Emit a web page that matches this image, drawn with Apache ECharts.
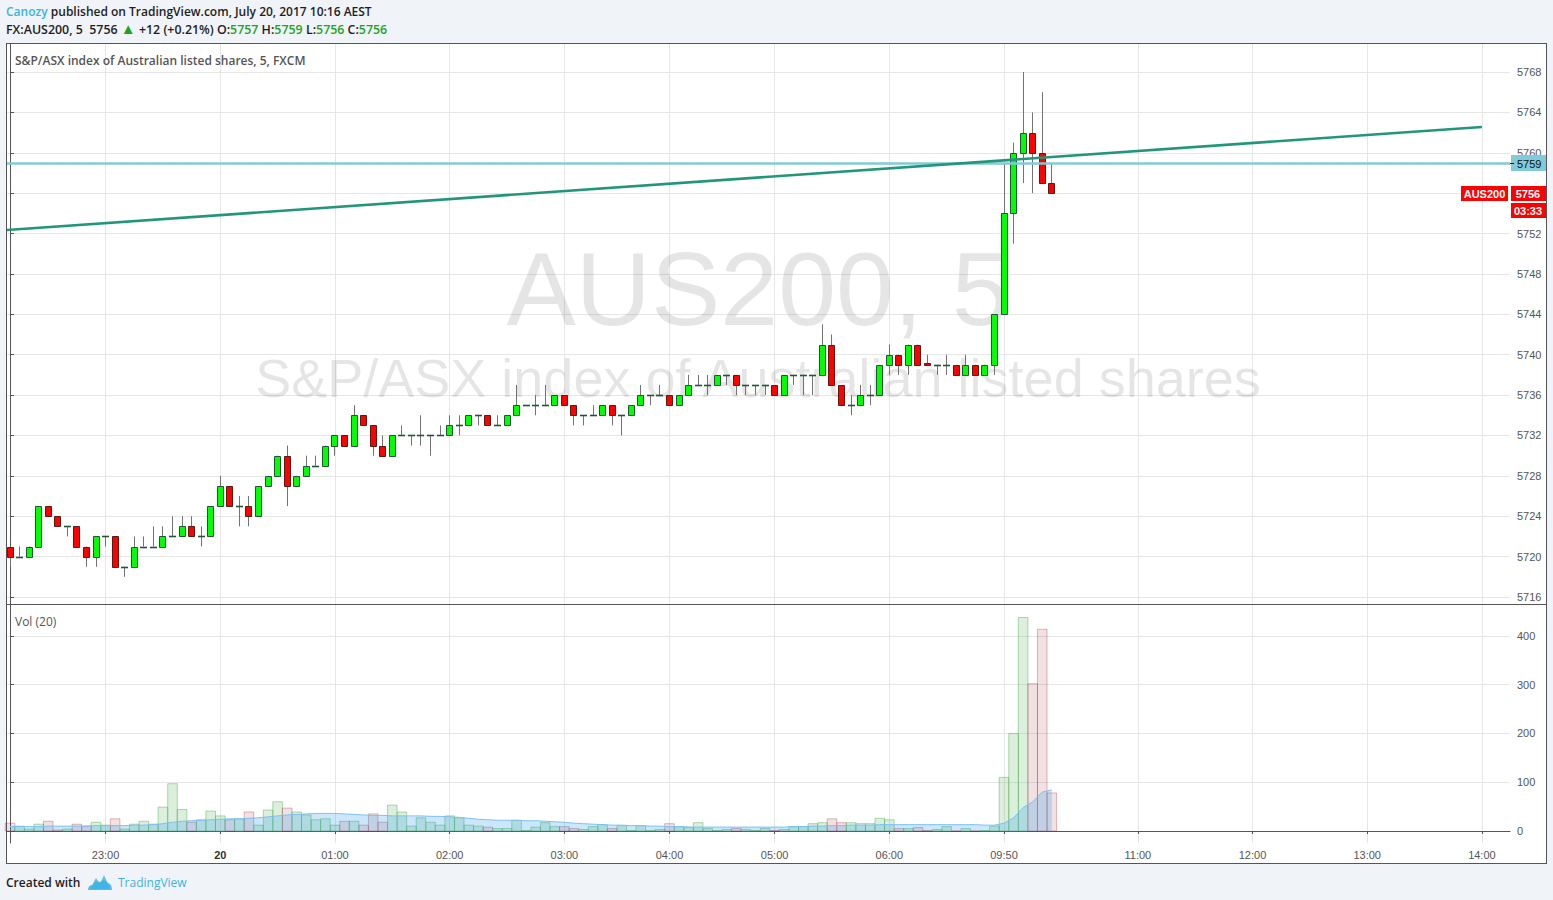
<!DOCTYPE html>
<html><head><meta charset="utf-8">
<script src="https://cdn.jsdelivr.net/npm/echarts@6.0.0/dist/echarts.min.js"></script>
<style>
html,body{margin:0;padding:0;background:#f0f3f7;width:1553px;height:900px;overflow:hidden;}
#frame{position:absolute;left:6px;top:43px;width:1541px;height:821px;box-sizing:border-box;border:1px solid #555;background:#fff;}
#sep{position:absolute;left:7px;top:604px;width:1539px;height:1px;background:#555;}
#c{position:absolute;left:0;top:0;width:1553px;height:900px;}
.t{position:absolute;white-space:nowrap;font-family:'Open Sans',sans-serif;font-weight:600;font-size:12px;color:#1e1e1e;}
.g{color:#1ea31e}
.b{color:#3bb3e4}
.tri{color:#1ea31e;font-size:15px;line-height:12px;}
</style></head><body>
<div id="frame"></div>
<div id="sep"></div>
<div class="t" style="left:6px;top:3px;"><span class="b">Canozy</span> published on TradingView.com, July 20, 2017 10:16 AEST</div>
<div class="t" style="left:6px;top:21px;font-size:12.4px;">FX:AUS200, 5&nbsp; 5756 <span class="tri">&#9650;</span> +12 (+0.21%) O:<span class="g">5757</span> H:<span class="g">5759</span> L:<span class="g">5756</span> C:<span class="g">5756</span></div>
<div class="t" style="left:6px;top:874px;">Created with</div>
<svg style="position:absolute;left:87px;top:872px" width="26" height="20" viewBox="0 0 26 20"><path d="M3 17 L9 6 L13 12 L17 3 L23 17 Z" fill="#5fc0ea"/><path d="M1 18 Q1 13 6 13 Q8 8 13 10 Q17 6 21 11 Q25 12 25 18 Z" fill="#3bb3e4" opacity="0.85"/></svg>
<div class="t" style="left:118px;top:874px;font-weight:400;color:#3bb3e4">TradingView</div>
<div id="c"></div>
<script>
// ---- data ----
const openP  = [5721,5720,5720,5721,5725,5724,5723,5723,5721,5720,5722,5722,5719,5719,5721,5721,5721,5722,5722,5723,
                5722,5722,5725,5727,5725,5725,5724,5727,5728,5730,5727,5728,5729,5729,5731,5732,5731,5734,5733,5731,
                5730,5732,5732,5732,5732,5732,5732,5733,5733,5734,5734,5733,5733,5734,5735,5735,5735,5735,5736,5735,
                5734,5734,5734,5735,5734,5734,5735,5736,5736,5736,5735,5736,5737,5737,5737,5738,5738,5737,5737,5737,
                5737,5736,5738,5738,5738,5738,5741,5737,5735,5735,5736,5736,5739,5740,5739,5741,5739.2,5739,5739,5739,
                5738,5739,5738,5739,5744,5754,5760,5762,5760,5757];
const highP  = [5721,5721,5721,5725,5725,5724,5723,5723,5721,5722,5722,5722,5719,5722,5722,5723,5723,5724,5724,5724,
                5723,5725,5728,5727,5726,5726,5727,5728,5730,5731,5728,5730,5730,5731,5732,5732,5735,5734,5733,5732,
                5732,5733,5732,5734,5732,5733,5734,5734,5734,5734,5734,5734,5734,5737,5735,5736,5737,5736,5736,5735,
                5734,5735,5735,5735,5734,5735,5737,5736,5737,5736,5736,5738,5738,5738,5738,5738,5738,5737,5737,5737,
                5737,5738,5738,5738,5738,5743,5742,5737,5736,5737,5737,5739,5741,5740,5741,5741,5740,5739,5740,5739,
                5740,5739,5739,5744,5759,5761,5768,5764,5766,5759];
const lowP   = [5719,5720,5720,5721,5724,5723,5722,5721,5719,5719,5721,5719,5718,5719,5721,5721,5721,5722,5722,5722,
                5721,5722,5725,5725,5723,5723,5724,5727,5728,5725,5727,5728,5729,5729,5730,5731,5731,5733,5730,5730,
                5730,5732,5731,5731,5730,5732,5732,5732,5733,5733,5733,5733,5733,5734,5735,5734,5735,5735,5735,5733,
                5733,5734,5734,5733,5732,5734,5735,5735,5736,5735,5735,5736,5737,5736,5737,5737,5736,5736,5736,5736,
                5736,5736,5737,5736,5736,5738,5737,5735,5734,5735,5735,5736,5738,5738,5738,5739,5739,5738,5738,5738,
                5738,5738,5738,5738,5744,5751,5757,5756,5757,5756];
const closeP = [5720,5720,5721,5725,5724,5723,5723,5721,5720,5722,5722,5719,5719,5721,5721,5721,5722,5722,5723,5722,
                5722,5725,5727,5725,5725,5724,5727,5728,5730,5727,5728,5729,5729,5731,5732,5731,5734,5733,5731,5730,
                5732,5732,5732,5732,5732,5732,5733,5733,5734,5734,5733,5733,5734,5735,5735,5735,5735,5736,5735,5734,
                5734,5734,5735,5734,5734,5735,5736,5736,5736,5735,5736,5737,5737,5737,5738,5738,5737,5737,5737,5737,
                5736,5738,5738,5738,5738,5741,5737,5735,5735,5736,5736,5739,5740,5739,5741,5739,5739,5739,5739,5738,
                5739,5738,5739,5744,5754,5760,5762,5760,5757,5756];
const volume = [16,10,4,14,20,2,4,14,10,18,12,25,4,14,20,14,49,97,44,18,
                23,41,31,23,25,39,12,43,60,47,39,33,23,25,12,20,20,12,35,18,
                53,39,10,27,18,12,31,27,12,10,8,5,5,22,1,8,17,9,9,5,
                3,9,13,5,11,1,11,1,3,15,9,8,17,5,1,3,5,3,1,5,
                1,3,9,9,15,17,25,17,17,15,15,26,23,5,5,7,1,3,9,0,
                5,0,1,10,110,200,438,302,414,78];
const volMA  = [9,9,9,9,10,10,10,10,10,11,11,11,11,12,12,13,15,18,20,21,
                22,23,24,25,25,26,27,29,31,33,34,35,36,36,36,35,34,33,32,32,
                31,31,31,31,30,30,29,28,26,24,23,22,22,22,21,21,20,19,18,16,
                15,14,13,12,12,11,11,10,10,9,9,8,8,8,8,8,8,8,8,8,
                8,8,9,9,10,10,11,11,12,12,12,13,13,13,13,13,13,13,13,13,
                13,13,12,12,16,27,48,60,80,84];
const priceTicks = [5716,5720,5724,5728,5732,5736,5740,5744,5748,5752,5756,5760,5764,5768];
const volTicks = [0,100,200,300,400];
const timeTickIndex = [10,22,34,46,58,69,80,92,104,118,130,142,154];
const timeTickLabel = ['23:00','20','01:00','02:00','03:00','04:00','05:00','06:00','09:50','11:00','12:00','13:00','14:00'];
const trendLine = [[-0.31,5752.35],[154,5762.55]];
const hLevel = 5759;
const lastPrice = 5756;
const symbolName = 'AUS200';
const countdown = '03:33';

// ---- chart ----
const chart = echarts.init(document.getElementById('c'), null, {renderer:'svg', width:1553, height:900});
const candles = openP.map((o,i)=>[i,o,highP[i],lowP[i],closeP[i]]);
const vols = volume.map((v,i)=>[i,v,closeP[i]>=openP[i]?1:0]);
const ma = volMA.map((v,i)=>[i,v]);
const X_MIN=-0.314, X_MAX=156.94;
const GRID='#e6e6e6', AX='#555';

function renderCandle(params, api){
  const i=api.value(0), o=api.value(1), h=api.value(2), l=api.value(3), c=api.value(4);
  const up = c>=o;
  const pt=api.coord([i,Math.max(o,c)]), pb=api.coord([i,Math.min(o,c)]);
  const ph=api.coord([i,h]), pl=api.coord([i,l]);
  const cx=Math.floor(pt[0])+0.5;
  const kids=[{type:'line',shape:{x1:cx,y1:ph[1],x2:cx,y2:pl[1]},style:{stroke:'#737375',lineWidth:1}}];
  const yt=Math.round(pt[1])+0.5, yb=Math.round(pb[1])+0.5;
  if (yb-yt<1){
    kids.push({type:'line',shape:{x1:cx-3.5,y1:yt,x2:cx+3.5,y2:yt},style:{stroke:up?'#225437':'#5b1a13',lineWidth:1.6}});
  } else {
    kids.push({type:'rect',shape:{x:cx-3,y:yt,width:6,height:yb-yt},style:{fill:up?'#00ff00':'#ff0000',stroke:up?'#225437':'#5b1a13',lineWidth:1}});
  }
  return {type:'group',children:kids};
}
function renderVol(params, api){
  const i=api.value(0), v=api.value(1), up=api.value(2);
  const a=api.coord([i-0.5,v]), b=api.coord([i+0.5,0]);
  return {type:'rect',shape:{x:a[0],y:a[1],width:b[0]-a[0],height:b[1]-a[1]},
    style:{fill:up?'rgba(76,175,80,0.2)':'rgba(160,40,50,0.14)',stroke:up?'rgba(76,175,80,0.45)':'rgba(160,40,50,0.32)',lineWidth:1}};
}
const axisLbl={color:'#555',fontSize:11,fontFamily:'Liberation Sans, Arial'};
const hiddenPriceLabels=[lastPrice];
const opt={
  backgroundColor:'transparent',
  animation:false,
  grid:[{left:7,top:44,width:1503,height:560},{left:7,top:605,width:1503,height:238}],
  xAxis:[
    {type:'value',gridIndex:0,min:X_MIN,max:X_MAX,axisLine:{show:false},axisLabel:{show:false},
     axisTick:{show:false,customValues:timeTickIndex},splitLine:{show:true,lineStyle:{color:GRID}}},
    {type:'value',gridIndex:1,min:X_MIN,max:X_MAX,axisLine:{show:true,lineStyle:{color:AX}},
     axisTick:{show:true,length:3,lineStyle:{color:AX},customValues:timeTickIndex},
     axisLabel:Object.assign({},axisLbl,{margin:6,customValues:timeTickIndex,
        formatter:v=>{const k=timeTickIndex.indexOf(Math.round(v));const s=k>=0?timeTickLabel[k]:'';return s==='20'?'{b|20}':s;},
        rich:{b:{fontWeight:'bold',fontSize:11,color:'#333'}}}),
     splitLine:{show:true,lineStyle:{color:GRID}}}
  ],
  yAxis:[
    {type:'value',gridIndex:0,position:'right',min:5715.307,max:5770.773,
     axisLine:{show:true,lineStyle:{color:AX}},axisTick:{show:true,length:4,lineStyle:{color:AX},customValues:priceTicks},
     axisLabel:Object.assign({},axisLbl,{margin:7,customValues:priceTicks,
        formatter:v=>hiddenPriceLabels.indexOf(Math.round(v))>=0?'':String(Math.round(v))}),
     splitLine:{show:true,lineStyle:{color:GRID}}},
    {type:'value',gridIndex:1,position:'right',min:-24.62,max:463.59,
     axisLine:{show:true,lineStyle:{color:AX}},axisTick:{show:true,length:4,lineStyle:{color:AX},customValues:volTicks},
     axisLabel:Object.assign({},axisLbl,{margin:7,customValues:volTicks,formatter:v=>String(Math.round(v))}),
     splitLine:{show:true,lineStyle:{color:GRID}}}
  ],
  series:[
    {type:'custom',name:'vol',xAxisIndex:1,yAxisIndex:1,data:vols,encode:{x:0,y:1},renderItem:renderVol,z:2},
    {type:'line',name:'volMA',xAxisIndex:1,yAxisIndex:1,data:ma,symbol:'none',z:3,
     lineStyle:{color:'#7cc1f3',width:1},areaStyle:{color:'rgba(33,150,243,0.33)'}},
    {type:'custom',name:'candles',xAxisIndex:0,yAxisIndex:0,data:candles,encode:{x:0,y:[1,2,3,4]},renderItem:renderCandle,z:3},
    {type:'line',name:'trend',xAxisIndex:0,yAxisIndex:0,data:trendLine,symbol:'none',z:5,
     lineStyle:{color:'#22967a',width:2.6},
     markLine:{silent:true,symbol:'none',label:{show:false},lineStyle:{color:'#80cbd7',width:2.6,type:'solid'},data:[{yAxis:hLevel}]}}
  ]
};
chart.setOption(opt);
// tags on the price scale, positioned through the axis scale
const yH = Math.round(chart.convertToPixel({xAxisIndex:0,yAxisIndex:0},[0,hLevel])[1]);
const yL = Math.round(chart.convertToPixel({xAxisIndex:0,yAxisIndex:0},[0,lastPrice])[1]);
const tagFont='bold 11px "Liberation Sans", Arial';
chart.setOption({graphic:[
  {id:'wm1',type:'text',z:1,style:{text:'AUS200, 5',x:758,y:341,textAlign:'center',textVerticalAlign:'bottom',fill:'rgba(0,0,0,0.1)',font:'104px "Liberation Sans", Arial'}},
  {id:'wm2',type:'text',z:1,style:{text:'S&P/ASX index of Australian listed shares',x:758,y:405,textAlign:'center',textVerticalAlign:'bottom',fill:'rgba(0,0,0,0.1)',font:'54px "Liberation Sans", Arial'}},
  {id:'t1',type:'text',z:50,style:{text:'S&P/ASX index of Australian listed shares, 5, FXCM',x:15,y:60,textVerticalAlign:'middle',fill:'#555',font:'600 12px "Open Sans"'}},
  {id:'t2',type:'text',z:50,style:{text:'Vol (20)',x:15,y:621,textVerticalAlign:'middle',fill:'#555',font:'400 12px "Open Sans"'}},
  {id:'r1',type:'rect',z:60,shape:{x:1511,y:yH-8,width:35,height:16},style:{fill:'#80cbd7'}},
  {id:'k1',type:'line',z:61,shape:{x1:1510,y1:yH+0.5,x2:1514,y2:yH+0.5},style:{stroke:'#111',lineWidth:1}},
  {id:'x1',type:'text',z:61,style:{text:String(hLevel),x:1517,y:yH+0.5,textVerticalAlign:'middle',fill:'#111',font:'11px "Liberation Sans", Arial'}},
  {id:'r2',type:'rect',z:60,shape:{x:1511,y:yL-7,width:35,height:15},style:{fill:'#ff0000'}},
  {id:'x2',type:'text',z:61,style:{text:String(lastPrice),x:1528,y:yL+0.5,textAlign:'center',textVerticalAlign:'middle',fill:'#fff',font:tagFont}},
  {id:'r3',type:'rect',z:60,shape:{x:1461,y:yL-7,width:47,height:15},style:{fill:'#ff0000'}},
  {id:'x3',type:'text',z:61,style:{text:symbolName,x:1484.5,y:yL+0.5,textAlign:'center',textVerticalAlign:'middle',fill:'#fff',font:tagFont}},
  {id:'r4',type:'rect',z:60,shape:{x:1511,y:yL+10,width:35,height:15},style:{fill:'#ff0000'}},
  {id:'x4',type:'text',z:61,style:{text:countdown,x:1528,y:yL+17.5,textAlign:'center',textVerticalAlign:'middle',fill:'#fff',font:tagFont}}
]});
</script>
</body></html>
